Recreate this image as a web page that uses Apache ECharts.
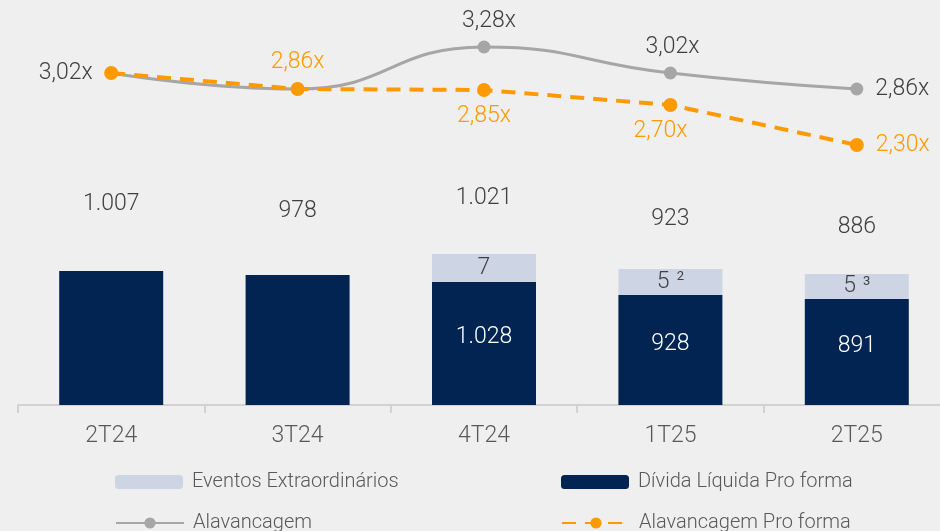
<!DOCTYPE html>
<html>
<head>
<meta charset="utf-8">
<script src="https://cdn.jsdelivr.net/npm/echarts@6/dist/echarts.min.js"></script>
<style>
  html, body { margin: 0; padding: 0; background: #efefef; }
  #chart { width: 940px; height: 531px; }
</style>
</head>
<body>
<div id="chart"></div>
<script>
var chartDom = document.getElementById("chart")
var chart = echarts.init(chartDom)

// categories
var quarters = ["2T24", "3T24", "4T24", "1T25", "2T25"]

// bar heights as drawn (the bars in the picture are not to scale with their labels)
var dividaHeight = [1005, 975, 923, 825, 795]
var eventosHeight = [0, 0, 210, 195, 188]

// label texts printed on the chart
var totalLabels = ["1.007", "978", "1.021", "923", "886"]
var dividaLabels = ["", "", "1.028", "928", "891"]
var eventosLabels = ["", "", "7", "5", "5"]
var eventosNotes = ["", "", "", "2", "3"]

// leverage lines
var alavancagem = [3.02, 2.86, 3.28, 3.02, 2.86]
var alavancagemPF = [3.02, 2.86, 2.85, 2.7, 2.3]

// label placement (style only)
var totalGap = [55, 52, 44, 38, 35]
var alavPos = ["left", null, "top", "top", "right"]
var alavPFPos = [null, "top", "bottom", "bottom", "right"]

var FONT = "Roboto"
var NAVY = "#012453"
var LIGHT = "#cdd5e4"
var ORANGE = "#ff9900"
var GRAY = "#a6a6a6"
var TEXT = "#404040"

function fmtX(v) {
  return v.toFixed(2).replace(".", ",") + "x"
}

function lineData(values, positions, shiftX) {
  var out = []
  for (var i = 0; i < values.length; i++) {
    var item = { value: values[i] }
    if (positions[i]) {
      item.label = {
        show: true,
        position: positions[i],
        distance: positions[i] == "left" || positions[i] == "right" ? 12 : 8,
        offset: [shiftX[i] || 0, 0],
      }
    } else {
      item.label = { show: false }
    }
    out.push(item)
  }
  return out
}

function totalData() {
  var out = []
  for (var i = 0; i < totalLabels.length; i++) {
    out.push({
      value: 0,
      label: {
        show: true,
        position: "top",
        distance: totalGap[i],
        formatter: totalLabels[i],
        color: TEXT,
        fontSize: 23,
        fontFamily: FONT,
        fontWeight: 300,
      },
    })
  }
  return out
}

function eventosInnerData() {
  var out = []
  for (var i = 0; i < eventosHeight.length; i++) {
    var txt = eventosLabels[i]
    if (eventosNotes[i]) txt = "{a|" + txt + "}{gap|}{s|" + eventosNotes[i] + "}"
    else if (txt) txt = "{a|" + txt + "}"
    out.push({
      value: eventosHeight[i],
      label: { show: txt !== "", formatter: txt },
    })
  }
  return out
}

function legendItem(name, left, top) {
  return {
    left: left,
    top: top,
    itemWidth: 68,
    itemHeight: 14,
    textStyle: { color: "#595959", fontSize: 20, fontFamily: FONT, fontWeight: 300, padding: [0, 0, 0, 4] },
    data: [name],
  }
}

option = {
  backgroundColor: "#efefef",
  animation: false,
  textStyle: { fontFamily: FONT, fontWeight: 300 },
  grid: { left: 18, width: 932, top: 5, bottom: 126, outerBoundsMode: "none", containLabel: false },
  legend: [
    legendItem("Eventos Extraordinários", 110, 467),
    legendItem("Alavancagem", 110, 508),
    legendItem("Dívida Líquida Pro forma", 556, 467),
    legendItem("Alavancagem Pro forma", 556, 508),
  ],
  xAxis: {
    type: "category",
    data: quarters,
    axisLine: { lineStyle: { color: "#d2d2d2", width: 2 } },
    axisTick: { show: true, length: 8, lineStyle: { color: "#d2d2d2", width: 2 } },
    axisLabel: { color: "#595959", fontSize: 23, margin: 20, fontFamily: FONT, fontWeight: 300 },
  },
  yAxis: [
    { type: "value", min: 0, max: 3000, show: false },
    { type: "value", min: -0.3, max: 3.7, show: false },
  ],
  series: [
    {
      name: "Dívida Líquida Pro forma",
      type: "bar",
      stack: "divida",
      barWidth: 104,
      itemStyle: { color: NAVY },
      label: {
        show: true,
        position: "inside",
        offset: [0, -6],
        color: "#ffffff",
        fontSize: 23,
        fontFamily: FONT,
        fontWeight: 300,
        formatter: function (p) {
          return dividaLabels[p.dataIndex]
        },
      },
      data: dividaHeight,
    },
    {
      name: "Eventos Extraordinários",
      type: "bar",
      stack: "divida",
      barWidth: 104,
      itemStyle: { color: LIGHT },
      label: {
        position: "inside",
        color: TEXT,
        rich: {
          a: { fontSize: 23, color: TEXT, fontFamily: FONT, fontWeight: 300 },
          gap: { width: 7 },
          s: { fontSize: 13, color: TEXT, fontFamily: FONT, fontWeight: 400, padding: [0, 0, 10, 0] },
        },
      },
      data: eventosInnerData(),
    },
    {
      // total labels above each stack
      name: "total",
      type: "bar",
      stack: "divida",
      barWidth: 104,
      itemStyle: { color: "transparent" },
      silent: true,
      data: totalData(),
    },
    {
      name: "Alavancagem",
      type: "line",
      yAxisIndex: 1,
      smooth: 0.5,
      symbol: "circle",
      symbolSize: 13,
      itemStyle: { color: GRAY },
      lineStyle: { color: GRAY, width: 3 },
      label: { color: TEXT, fontSize: 23, fontFamily: FONT, fontWeight: 300, formatter: function (p) { return fmtX(p.value) } },
      data: lineData(alavancagem, alavPos, [0, 0, 5, 2, 0]),
    },
    {
      name: "Alavancagem Pro forma",
      type: "line",
      yAxisIndex: 1,
      symbol: "circle",
      symbolSize: 14,
      itemStyle: { color: ORANGE },
      lineStyle: { color: ORANGE, width: 4, type: [14, 9] },
      label: { color: ORANGE, fontSize: 23, fontFamily: FONT, fontWeight: 300, formatter: function (p) { return fmtX(p.value) } },
      data: lineData(alavancagemPF, alavPFPos, [0, 0, 0, -10, 0]),
    },
  ],
}

chart.setOption(option)
</script>
</body>
</html>
